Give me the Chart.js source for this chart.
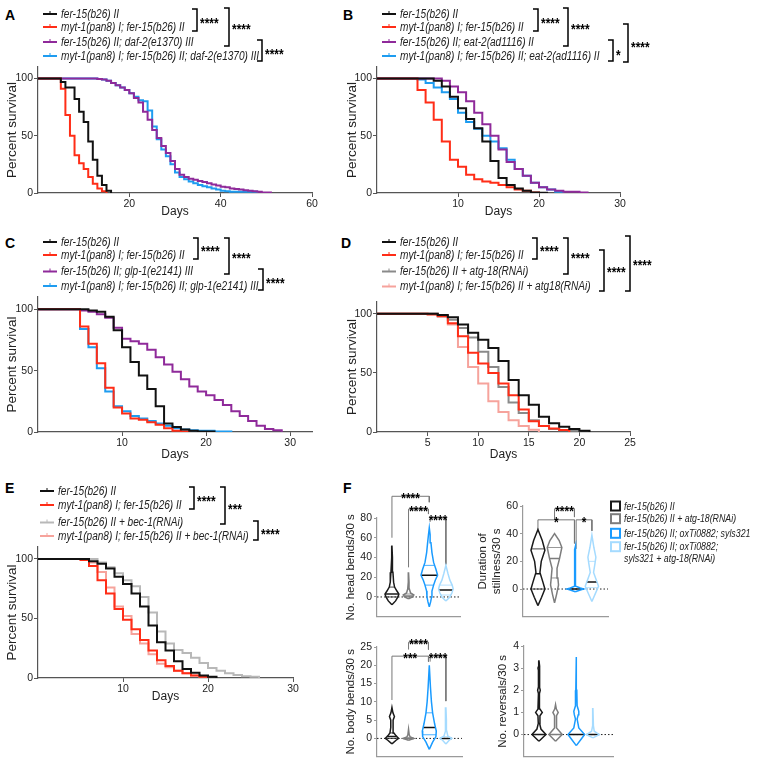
<!DOCTYPE html>
<html>
<head>
<meta charset="utf-8">
<script src="https://cdn.jsdelivr.net/npm/chart.js@4.4.1/dist/chart.umd.min.js"></script>
<style>
  body { margin: 0; width: 768px; height: 768px; position: relative; background: #fff; overflow: hidden; font-family: "Liberation Sans", Arial, sans-serif; }
  canvas { position: absolute; }
  .lbl { position: absolute; font-weight: bold; font-size: 14px; line-height: 14px; color: #000; }
</style>
</head>
<body>
<div class="lbl" style="left:5px;top:8px">A</div>
<div class="lbl" style="left:343px;top:8px">B</div>
<div class="lbl" style="left:5px;top:236px">C</div>
<div class="lbl" style="left:341px;top:236px">D</div>
<div class="lbl" style="left:5px;top:481px">E</div>
<div class="lbl" style="left:343px;top:481px">F</div>

<canvas id="cA" width="340" height="223" style="left:0;top:0"></canvas>
<canvas id="cB" width="428" height="223" style="left:340px;top:0"></canvas>
<canvas id="cC" width="340" height="236" style="left:0;top:230px"></canvas>
<canvas id="cD" width="428" height="236" style="left:340px;top:230px"></canvas>
<canvas id="cE" width="340" height="233" style="left:0;top:475px"></canvas>
<canvas id="cHead" width="130" height="145" style="left:340px;top:480px"></canvas>
<canvas id="cStill" width="296" height="145" style="left:472px;top:480px"></canvas>
<canvas id="cBody" width="130" height="135" style="left:340px;top:630px"></canvas>
<canvas id="cRev" width="130" height="135" style="left:492px;top:630px"></canvas>

<script>
const FONT = '"Liberation Sans", Arial, sans-serif';
const AXIS = '#555';
const FAXIS = '#9a9a9a';

// survival curves: percent alive, index = day
const labelsA = ['fer-15(b26) II', 'myt-1(pan8) I; fer-15(b26) II', 'fer-15(b26) II; daf-2(e1370) III', 'myt-1(pan8) I; fer-15(b26) II; daf-2(e1370) III'];
const aFer15 = [100,100,100,100,100,97,92,92,82,71,62,45,29,15,7,2,0];
const aMyt1 = [100,100,100,100,100,91,68,50,33,26,21,14,8,4,1.5,0];
const aDaf2 = [100,100,100,100,100,100,100,100,100,100,100,100,100,99.5,99,98,96,94,92,90,87,83,79,71,64,55,48,41,35,28,21,16,14,12.5,11.5,10.5,9.5,8.5,7.5,6.5,5.5,5,4,3.5,3,2.5,2,1.5,1,0.5,0.5,0];
const aMytDaf2 = [100,100,100,100,100,100,100,100,100,100,100,100,100,99.5,99,98,96,94,92,90,87,84,81,80,72,58,47,38,32,25,18,14,12,10,8.5,7,6,5,4,3,2,1.5,1,1,1,1,1,1,0];

const labelsB = ['fer-15(b26) II', 'myt-1(pan8) I; fer-15(b26) II', 'fer-15(b26) II; eat-2(ad1116) II', 'myt-1(pan8) I; fer-15(b26) II; eat-2(ad1116) II'];
const bFer15 = [100,100,100,100,100,100,100,98,93,84,74,64.5,56.5,45,28,13,7,4,2,0.5,0.3,0];
const bMyt1 = [100,100,100,100,100,90,79,64,45,29,23,16,12,10,9,7,5,3,2,0.5,0];
const bEat2 = [100,100,100,100,100,100,100,100,98,93,88,80,70,60,50,38,27,21,15,9,5,3,2,1,1,0.5,0];
const bMytEat2 = [100,100,100,100,100,99,96,92,88,82,70,62,56,50,45,39,29,21,15,9,5,3,1,0];

const labelsC = ['fer-15(b26) II', 'myt-1(pan8) I; fer-15(b26) II', 'fer-15(b26) II; glp-1(e2141) III', 'myt-1(pan8) I; fer-15(b26) II; glp-1(e2141) III'];
const cFer15 = [100,100,100,100,100,100,99,98,94,83,69,57,46,35,21,7,4,2,1,0.5,0.5,0];
const cMyt1 = [100,100,100,100,100,86,72,56,36,20,15,11,10,8,6,3,1,0.5,0];
const cGlp1 = [100,100,100,100,100,99,98,96,93,85,76,74,72,67,61,55,49,43,37,33,30,26,22,17,13,9,5,2.5,1.5,0];
const cMytGlp1 = [100,100,100,100,100,84,69,52,33,21,17,13,11,9,7,5,3,2,1.5,1,1,0.5,0.5,0];

const labelsD = ['fer-15(b26) II', 'myt-1(pan8) I; fer-15(b26) II', 'fer-15(b26) II + atg-18(RNAi)', 'myt-1(pan8) I; fer-15(b26) II + atg18(RNAi)'];
const dFer15 = [100,100,100,100,100,100,99,97,91,84,78,71,60,44,31,23,13,7.5,4.5,2.5,1,0];
const dMyt1 = [100,100,100,100,100,99.5,98,92,81,67,58,50,41,31,19,9,5,3,1.7,0];
const dAtg18 = [100,100,100,100,100,100,98,95,88,80,68,55,38,25,16,10,5,2.5,1.5,1,0];
const dMytAtg18 = [100,100,100,100,100,100,98,91,72,55,41,26,17,10,5,2,0];

const labelsE = ['fer-15(b26) II', 'myt-1(pan8) I; fer-15(b26) II', 'fer-15(b26) II + bec-1(RNAi)', 'myt-1(pan8) I; fer-15(b26) II + bec-1(RNAi)'];
const eFer15 = [100,100,100,100,100,100,98,96,92,85,79,71,60,44,30,23,14,7.5,4.5,2,1,0];
const eMyt1 = [100,100,100,100,100,99,94,82,71,58,49,41,32,23,15,10,6,4,2,1,0];
const eBec1 = [100,100,100,100,100,100,100,97,93,88,82,77,68,55,39,29,23.5,21,17,12.5,8.5,6,4,2.5,1.5,1,0];
const eMytBec1 = [100,100,100,100,100,100,97,89,76,60,52,37,29,20,12,9,6,4,2,1,0];

const survTicks = [0, 50, 100];

// panel F: violin profiles [value, half width], medians, quartiles
const groupLabels = ['fer-15(b26) II', 'fer-15(b26) II + atg-18(RNAi)', 'fer-15(b26) II; oxTi0882; syls321', ['fer-15(b26) II; oxTi0882;', 'syls321 + atg-18(RNAi)']];
const groupPos = [1, 2, 3.25, 4.25];
const groupColors = ['#1a1a1a', '#7d7d7d', '#1a9bff', '#a5dbff'];
const medianColors = ['#1a1a1a', '#7d7d7d', '#111', '#111'];

const headViolins = [
  [[-8,0],[-4,.22],[0,.36],[3,.42],[6,.3],[10,.16],[15,.1],[25,.06],[40,.03],[52,0]],
  [[-2,0],[0,.24],[2,.32],[4,.12],[8,.05],[15,.03],[25,0]],
  [[-10,0],[-5,.08],[0,.14],[6,.16],[12,.26],[17,.36],[22,.5],[28,.4],[35,.26],[45,.16],[55,.1],[63,.05],[70,0]],
  [[-4,0],[0,.24],[4,.36],[8,.44],[12,.38],[17,.24],[24,.12],[32,0]]
];
const headMedians = [3, 1, 22, 7];
const headQuartiles = [[0, 10], [0, 3], [12, 32], [2, 12]];
const headBrackets = [[1, 3.25, 102, 60, 96, '****'], [2, 3.2, 89, 30, 84, '****'], [3.3, 4.25, 80, 76, 33, '****']];

const stillViolins = [
  [[-12,0],[-6,.22],[0,.42],[5,.3],[12,.12],[20,.2],[28,.42],[35,.26],[43,0]],
  [[-10,0],[-4,.12],[3,.24],[8,.2],[15,.15],[22,.3],[30,.44],[35,.28],[40,0]],
  [[-2,0],[-0.7,.3],[0,.5],[0.7,.3],[2,.04],[29,.03],[31,0]],
  [[-9,0],[-3,.22],[2,.4],[6,.28],[12,.1],[18,.18],[23,.24],[30,.12],[39,0]]
];
const stillMedians = [11, 22, 0, 5];
const stillQuartiles = [[0, 29], [8, 30], [0, 0], [1, 20]];
const stillBrackets = [[1, 3.2, 50, 43, 33, '*'], [2, 3.2, 58, 51, 52, '****'], [3.3, 4.25, 50, 29, 42, '*']];

const bodyViolins = [
  [[-1.5,0],[-0.5,.25],[0,.4],[0.7,.25],[1.5,.12],[3,.07],[5,.07],[6,.15],[7,.06],[8.5,0]],
  [[-0.5,0],[0,.32],[0.4,.1],[1,.04],[2.5,0]],
  [[-3,0],[-1,.2],[0.5,.4],[2,.42],[4,.32],[7,.2],[10,.13],[14,.07],[20,0]],
  [[-1.5,0],[-0.5,.2],[0,.36],[0.6,.12],[2,.05],[5,.03],[8.5,0]]
];
const bodyMedians = [0.5, 0, 3, 0];
const bodyQuartiles = [[0, 1.5], [0, 0.3], [1, 7], [0, 0.5]];
const bodyBrackets = [[1, 3.2, 22.5, 10.5, 21, '***'], [2, 3.2, 26.3, 24.3, 24.3, '****'], [3.3, 4.25, 22.5, 21, 10.2, '****']];

const revViolins = [
  [[-0.3,0],[0,.42],[0.25,.12],[0.5,.04],[0.85,.06],[1,.2],[1.15,.06],[1.85,.03],[2,.08],[2.15,.03],[2.9,.03],[3,.06],[3.1,.03],[3.35,0]],
  [[-0.3,0],[0,.4],[0.3,.06],[0.85,.06],[1,.16],[1.15,.05],[1.35,0]],
  [[-0.5,0],[-0.2,.3],[0,.5],[0.3,.15],[0.7,.05],[0.9,.12],[1.05,.15],[1.3,.05],[2,.03],[3.5,0]],
  [[-0.15,0],[0,.38],[0.15,.08],[0.4,.03],[1.2,0]]
];
const revMedians = [0, 0, 0, 0];
const revQuartiles = [[0, 0], [0, 0], [0, 0], [0, 0]];

// text squeezed horizontally, like the narrow lettering of the figure
function narrowText(ctx, text, x, y, sx) {
  ctx.save();
  ctx.translate(x, y);
  ctx.scale(sx, 1);
  ctx.fillText(text, 0, 0);
  ctx.restore();
}

// legend with significance brackets, drawn in the top padding
function bracketLegend(cfg) {
  return {
    id: 'bracketLegend',
    afterDraw(chart) {
      const ctx = chart.ctx;
      ctx.save();
      ctx.textBaseline = 'middle';
      chart.data.datasets.forEach((ds, i) => {
        const y = cfg.rows[i];
        ctx.strokeStyle = ds.borderColor;
        ctx.lineWidth = 2;
        ctx.beginPath(); ctx.moveTo(cfg.x, y); ctx.lineTo(cfg.x + 14, y); ctx.stroke();
        ctx.lineWidth = 1;
        ctx.beginPath(); ctx.moveTo(cfg.x + 7, y - 3); ctx.lineTo(cfg.x + 7, y); ctx.stroke();
        ctx.fillStyle = '#222';
        ctx.font = 'italic 12px ' + FONT;
        narrowText(ctx, ds.label, cfg.x + 18, y + 0.5, 0.84);
      });
      cfg.brackets.forEach(b => {
        ctx.strokeStyle = '#000';
        ctx.lineWidth = 1.5;
        ctx.beginPath();
        ctx.moveTo(b[0] - 5, b[1]); ctx.lineTo(b[0], b[1]); ctx.lineTo(b[0], b[2]); ctx.lineTo(b[0] - 5, b[2]);
        ctx.stroke();
        ctx.fillStyle = '#000';
        ctx.font = 'bold 14px ' + FONT;
        ctx.textBaseline = 'alphabetic';
        narrowText(ctx, b[3], b[0] + 3, b[4] + 8, 0.85);
        ctx.textBaseline = 'middle';
      });
      ctx.restore();
    }
  };
}

function survival(id, labels, series, colors, xMax, xTicks, box, legend) {
  new Chart(document.getElementById(id), {
    type: 'line',
    data: {
      datasets: series.map((vals, i) => ({
        label: labels[i],
        data: vals.map((v, d) => ({ x: d, y: v })),
        borderColor: colors[i],
        borderWidth: 2,
        pointRadius: 0,
        stepped: true,
        fill: false,
        borderJoinStyle: 'miter'
      }))
    },
    options: {
      responsive: false,
      animation: false,
      layout: { padding: { left: 0, top: box.top, right: box.right, bottom: 0 } },
      plugins: { legend: { display: false }, tooltip: { enabled: false } },
      scales: {
        x: {
          type: 'linear', min: 0, max: xMax,
          afterBuildTicks: s => { s.ticks = xTicks.map(v => ({ value: v })); },
          afterFit: s => { s.height = box.xh; },
          grid: { drawOnChartArea: false, tickLength: 4, color: AXIS },
          border: { color: AXIS, width: 1.2 },
          ticks: { padding: 1, color: '#222', maxRotation: 0, font: { family: FONT, size: 10.5 } },
          title: { display: true, text: 'Days', color: '#222', font: { family: FONT, size: 12 } }
        },
        y: {
          min: 0, max: 110,
          afterBuildTicks: s => { s.ticks = survTicks.map(v => ({ value: v })); },
          afterFit: s => { s.width = box.yw; },
          grid: { drawOnChartArea: false, tickLength: 4, color: AXIS },
          border: { color: AXIS, width: 1.2 },
          ticks: { padding: 1, color: '#222', font: { family: FONT, size: 10.5 } },
          title: { display: true, text: 'Percent survival', color: '#222', font: { family: FONT, size: 13.5 } }
        }
      }
    },
    plugins: [bracketLegend(legend)]
  });
}

const black = '#111111', red = '#ff2d17', purple = '#8f2a9a', blue = '#1e9cf0';
const grayD = '#8a8a8a', pink = '#f6a39c', grayE = '#b8b8b8';

survival('cA', labelsA, [aFer15, aMyt1, aDaf2, aMytDaf2], [black, red, purple, blue], 60, [20, 40, 60],
  { top: 67, right: 28, xh: 30, yw: 38 },
  { x: 43, rows: [14, 27, 42, 56], brackets: [[197, 9, 31, '****', 20], [229, 8, 46, '****', 26], [262, 40, 61, '****', 51]] });

survival('cB', labelsB, [bFer15, bMyt1, bEat2, bMytEat2], [black, red, purple, blue], 30, [10, 20, 30],
  { top: 67, right: 148, xh: 30, yw: 37 },
  { x: 42, rows: [14, 27, 42, 56], brackets: [[198, 9, 31, '****', 20], [228, 8, 46, '****', 26], [273, 40, 61, '*', 52], [288, 24, 62, '****', 44]] });

survival('cC', labelsC, [cFer15, cMyt1, cGlp1, cMytGlp1], [black, red, purple, blue], 32.6, [10, 20, 30],
  { top: 67, right: 28, xh: 34, yw: 38 },
  { x: 43, rows: [12, 25, 41.5, 56], brackets: [[198, 8, 29, '****', 18], [229, 8, 44, '****', 25], [263, 39, 60, '****', 50]] });

survival('cD', labelsD, [dFer15, dMyt1, dAtg18, dMytAtg18], [black, red, grayD, pink], 25, [5, 10, 15, 20, 25],
  { top: 72, right: 138, xh: 34, yw: 37 },
  { x: 42, rows: [12, 25, 41.5, 56.5], brackets: [[197, 8, 29, '****', 18], [228, 8, 44, '****', 25], [264, 20, 61, '****', 39], [290, 6, 61, '****', 32]] });

survival('cE', labelsE, [eFer15, eMyt1, eBec1, eMytBec1], [black, red, grayE, pink], 30, [10, 20, 30],
  { top: 72, right: 47, xh: 30, yw: 38 },
  { x: 40, rows: [16, 30, 47.5, 61], brackets: [[194, 12, 34, '****', 23], [225, 12, 49, '***', 31], [258, 46, 65, '****', 56]] });

// ---- violins ----
function widthAt(profile, y) {
  for (let k = 1; k < profile.length; k++) {
    const [y0, w0] = profile[k - 1], [y1, w1] = profile[k];
    if (y >= y0 && y <= y1) return w0 + (w1 - w0) * (y - y0) / (y1 - y0 || 1);
  }
  return 0;
}

function starPlugin(brackets) {
  return {
    id: 'stars',
    afterDatasetsDraw(chart) {
      const { ctx, scales: { x, y } } = chart;
      ctx.save();
      ctx.font = 'bold 14px ' + FONT;
      ctx.textAlign = 'center';
      ctx.textBaseline = 'alphabetic';
      ctx.fillStyle = '#000';
      brackets.forEach(b => narrowText(ctx, b[5], x.getPixelForValue((b[0] + b[1]) / 2), y.getPixelForValue(b[2]) + 7, 0.85));
      ctx.restore();
    }
  };
}

function fLegend(cfg) {
  return {
    id: 'fLegend',
    afterDraw(chart) {
      const ctx = chart.ctx;
      ctx.save();
      ctx.textBaseline = 'middle';
      ctx.font = 'italic 11px ' + FONT;
      groupLabels.forEach((lab, i) => {
        const y = cfg.rows[i];
        ctx.strokeStyle = groupColors[i];
        ctx.lineWidth = 2;
        ctx.strokeRect(cfg.x + 1, y - 4.5, 9, 9);
        ctx.fillStyle = '#222';
        const lines = Array.isArray(lab) ? lab : [lab];
        lines.forEach((t, j) => narrowText(ctx, t, cfg.x + 14, y + 0.5 + j * 11.5, 0.8));
      });
      ctx.restore();
    }
  };
}

function violin(id, profiles, medians, quartiles, brackets, yMin, yMax, yTicks, xMax, title, box, extra) {
  const datasets = [];
  profiles.forEach((p, i) => {
    const c = groupPos[i];
    const right = p.map(([y, w]) => ({ x: c + w, y }));
    const left = p.slice().reverse().map(([y, w]) => ({ x: c - w, y }));
    datasets.push({ data: right.concat(left), borderColor: groupColors[i], borderWidth: 1.5, showLine: true, pointRadius: 0, tension: 0, fill: false });
    const m = medians[i], wm = widthAt(p, m);
    datasets.push({ data: [{ x: c - wm, y: m }, { x: c + wm, y: m }], borderColor: medianColors[i], borderWidth: 1.5, showLine: true, pointRadius: 0 });
    quartiles[i].forEach(q => {
      if (q === m) return;
      const wq = widthAt(p, q);
      datasets.push({ data: [{ x: c - wq, y: q }, { x: c + wq, y: q }], borderColor: groupColors[i], borderWidth: 0.8, showLine: true, pointRadius: 0 });
    });
  });
  brackets.forEach(b => {
    datasets.push({ data: [{ x: b[0], y: b[3] }, { x: b[0], y: b[2] }, { x: b[1], y: b[2] }, { x: b[1], y: b[4] }], borderColor: '#777', borderWidth: 1, showLine: true, pointRadius: 0, clip: false });
  });
  datasets.push({ data: [{ x: 0.1, y: 0 }, { x: xMax, y: 0 }], borderColor: '#222', borderWidth: 1, borderDash: [1.5, 2], showLine: true, pointRadius: 0 });

  new Chart(document.getElementById(id), {
    type: 'scatter',
    data: { datasets },
    options: {
      responsive: false,
      animation: false,
      layout: { padding: { left: 0, top: box.top, right: box.right, bottom: 0 } },
      plugins: { legend: { display: false }, tooltip: { enabled: false } },
      scales: {
        x: {
          type: 'linear', min: 0.1, max: xMax,
          afterFit: s => { s.height = box.xh; },
          grid: { display: false },
          border: { color: FAXIS, width: 1.2 },
          ticks: { display: false }
        },
        y: {
          min: yMin, max: yMax,
          afterBuildTicks: s => { s.ticks = yTicks.map(v => ({ value: v })); },
          afterFit: s => { s.width = box.yw; },
          grid: { drawOnChartArea: false, tickLength: 3, color: FAXIS },
          border: { color: FAXIS, width: 1.2 },
          ticks: { padding: 2, color: '#222', font: { family: FONT, size: 10.5 } },
          title: { display: true, text: title, color: '#222', font: { family: FONT, size: 11.5 }, padding: { top: 4, bottom: 2 } }
        }
      }
    },
    plugins: [starPlugin(brackets)].concat(extra || [])
  });
}

violin('cHead', headViolins, headMedians, headQuartiles, headBrackets, -20, 80, [0, 20, 40, 60, 80], 5.1,
  'No. head bends/30 s', { top: 38, right: 10, xh: 6, yw: 37 });
violin('cStill', stillViolins, stillMedians, stillQuartiles, stillBrackets, -20, 60, [0, 20, 40, 60], 5.22,
  ['Duration of', 'stillness/30 s'], { top: 26, right: 160, xh: 6, yw: 51 },
  [fLegend({ x: 138, rows: [26, 38.7, 53.3, 66.7] })]);
violin('cBody', bodyViolins, bodyMedians, bodyQuartiles, bodyBrackets, -5, 25, [0, 5, 10, 15, 20, 25], 5.22,
  'No. body bends/30 s', { top: 17, right: 8, xh: 8, yw: 37 });
violin('cRev', revViolins, revMedians, revQuartiles, [], -1, 4, [0, 1, 2, 3, 4], 5.46,
  'No. reversals/30 s', { top: 16, right: 9, xh: 7, yw: 32 });
</script>
</body>
</html>
